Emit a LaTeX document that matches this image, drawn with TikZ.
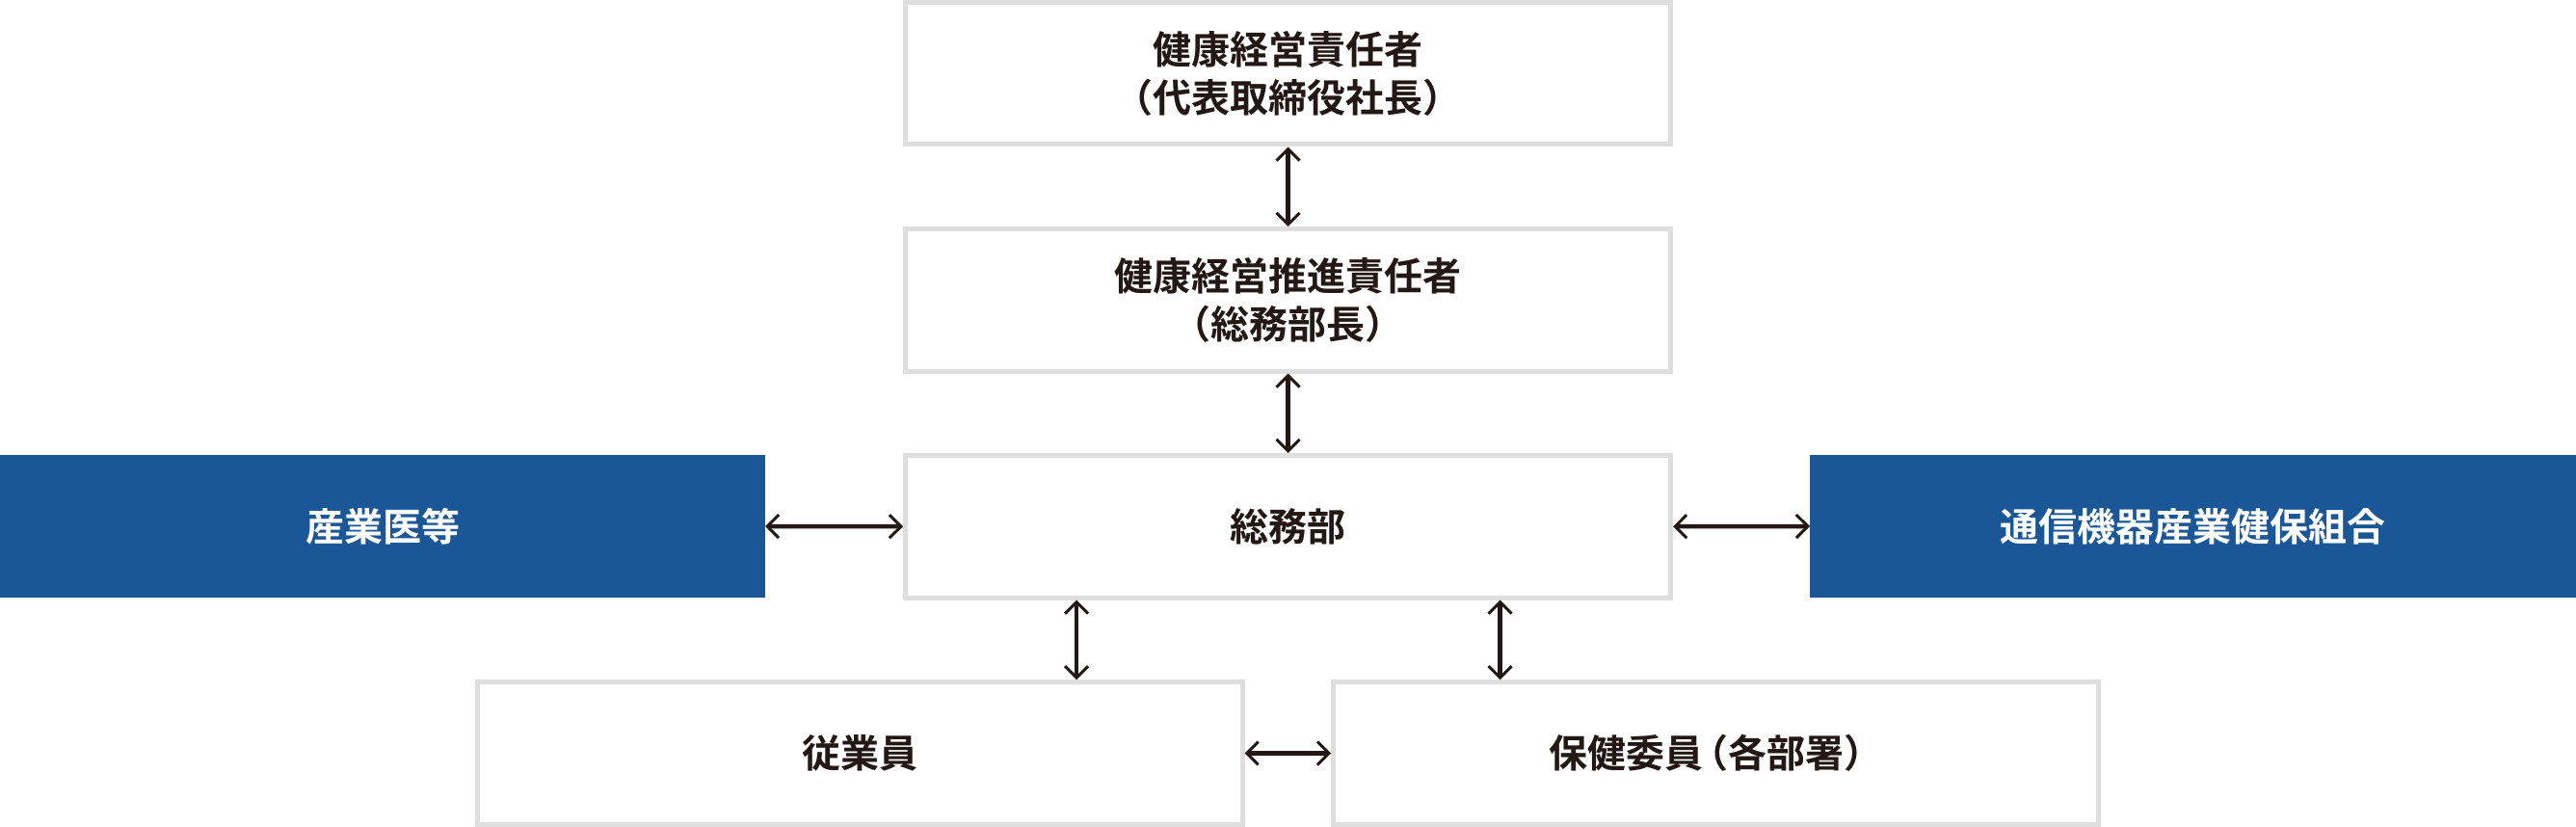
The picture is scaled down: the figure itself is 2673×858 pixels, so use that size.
\documentclass[tikz,border=0pt]{standalone}
\usepackage{fontspec}
\newfontfamily\jp{Noto Sans CJK JP Bold}
\usetikzlibrary{arrows.meta,calc}
\definecolor{boxgray}{HTML}{DEDEDE}
\definecolor{navy}{HTML}{1B5796}
\definecolor{ink}{HTML}{231815}
\tikzset{
  wbox/.style={draw=boxgray,line width=5pt,fill=white,minimum width=794pt,minimum height=147.5pt,inner sep=0pt,text=ink,font=\jp\fontsize{40}{50}\selectfont,align=center},
  bbox/.style={fill=navy,draw=none,minimum width=794pt,minimum height=148pt,inner sep=0pt,outer sep=0pt,text=white,font=\jp\fontsize{40}{50}\selectfont,align=center},
  barb/.tip={Straight Barb[length=12pt,width=24pt,line width=3pt]},
  conn/.style={draw=ink,line width=4.5pt,barb-barb}
}
\begin{document}
\begin{tikzpicture}[x=1pt,y=-1pt]
\useasboundingbox (0,0) rectangle (2673,858);
\node[wbox] (ceo) at (1336.5,76.25) {健康経営責任者\\（代表取締役社長）};
\node[wbox] (prom) at (1336.5,311.25) {健康経営推進責任者\\（総務部長）};
\node[wbox] (gen) at (1336.5,546.25) {総務部};
\node[bbox] (doc) at (397,546) {産業医等};
\node[bbox,minimum width=795pt] (kumiai) at (2275.5,546) {通信機器産業健保組合};
\node[wbox] (emp) at (892,781.5) {従業員};
\node[wbox] (hoken) at (1780.5,781.5) {保健委員\kern-14pt（各部署）};
\draw[conn] (ceo.south) -- (prom.north);
\draw[conn] (prom.south) -- (gen.north);
\draw[conn] (doc.east) -- (gen.west);
\draw[conn] (gen.east) -- (kumiai.west);
\draw[conn] ([xshift=-219.5pt]gen.south) -- ([xshift=-219.5pt]gen.south |- emp.north);
\draw[conn] ([xshift=220pt]gen.south) -- ([xshift=220pt]gen.south |- hoken.north);
\draw[conn] (emp.east) -- (hoken.west);
\end{tikzpicture}
\end{document}
